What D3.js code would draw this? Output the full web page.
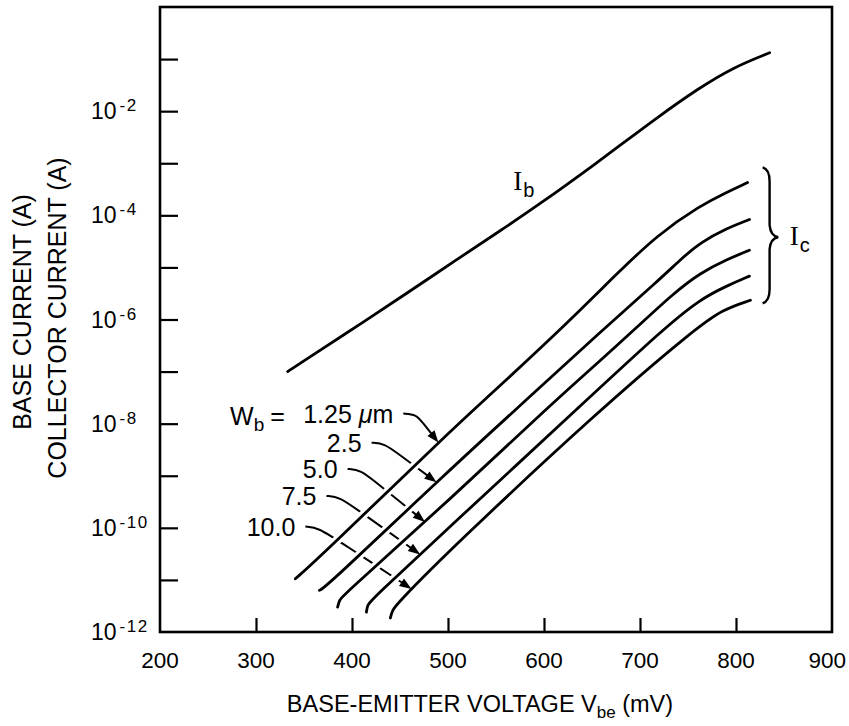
<!DOCTYPE html>
<html>
<head>
<meta charset="utf-8">
<script src="https://cdn.jsdelivr.net/npm/d3@7"></script>
<style>
    html, body { margin: 0; padding: 0; background: #fff; }
    svg { display: block; font-family: "Liberation Sans", Arial, sans-serif; }
</style>
</head>
<body>
<svg id="chart" width="849" height="726"></svg>
<script>
// axis ticks
const xTicks = [300, 400, 500, 600, 700, 800];
const xLabels = [200, 300, 400, 500, 600, 700, 800, 900];
const yTickExps = [-11, -10, -9, -8, -7, -6, -5, -4, -3, -2, -1];
const yLabelExps = [-12, -10, -8, -6, -4, -2];

// [Vbe (mV), current (A)]
const baseCurrent = [[333, 1.0e-7], [346, 1.45e-7], [416, 1.0e-6], [460, 3.47e-6], [509, 1.41e-5],
    [554, 5.0e-5], [596, 1.66e-4], [658, 1.12e-3], [682, 2.4e-3], [718, 7.6e-3],
    [762, 2.82e-2], [797, 6.9e-2], [835, 0.132]];

const icW125 = [[341, 1.05e-11], [367, 2.8e-11], [502, 7.1e-9], [539, 2.95e-8], [620, 7.1e-7],
    [676, 7.6e-6], [718, 4.2e-5], [763, 1.55e-4], [790, 2.75e-4], [812, 4.27e-4]];
const icW25 = [[366, 6.3e-12], [374, 7.6e-12], [502, 1.32e-9], [582, 2.9e-8], [658, 5.6e-7],
    [721, 6.0e-6], [745, 1.58e-5], [763, 3.0e-5], [790, 5.6e-5], [814, 8.3e-5]];
const icW50 = [[385, 3.0e-12], [387, 4.2e-12], [391, 5.1e-12], [502, 3.5e-10], [609, 2.5e-8],
    [658, 1.58e-7], [695, 6.6e-7], [735, 3.2e-6], [763, 7.9e-6], [790, 1.41e-5], [814, 2.14e-5]];
const icW75 = [[415, 2.4e-12], [416, 3.3e-12], [421, 4.3e-12], [502, 1.05e-10], [645, 2.9e-8],
    [724, 6.5e-7], [762, 2.4e-6], [790, 4.4e-6], [814, 6.8e-6]];
const icW100 = [[440, 1.86e-12], [442, 2.6e-12], [447, 3.5e-12], [502, 3.8e-11], [658, 1.86e-8],
    [757, 6.5e-7], [786, 1.55e-6], [815, 2.34e-6]];

const widthLabels = ["1.25", "2.5", "5.0", "7.5", "10.0"];
const collectorCurves = [icW125, icW25, icW50, icW75, icW100];
// where each width label ends, and the Vbe the arrow points at
const labelAnchors = [[443, 1.05e-8], [410, 2.9e-9], [385, 9.1e-10], [363, 2.75e-10], [341, 7.1e-11]];
const arrowTipV = [490, 488, 476, 471, 462];

const svg = d3.select("#chart");
const x = d3.scaleLinear().domain([200, 900]).range([160, 832]);
const y = d3.scaleLog().domain([1e-12, 1]).range([632, 7]);

// frame
svg.append("rect")
    .attr("x", x(200)).attr("y", y(1))
    .attr("width", x(900) - x(200)).attr("height", y(1e-12) - y(1))
    .attr("fill", "none").attr("stroke", "#000").attr("stroke-width", 2.6);

const xAxis = svg.append("g")
    .attr("transform", `translate(0,${y(1e-12)})`)
    .call(d3.axisBottom(x).tickValues(xTicks).tickSize(-14).tickFormat(""));
xAxis.select(".domain").remove();
xAxis.selectAll("line").attr("stroke-width", 2.2);

const yAxis = svg.append("g")
    .attr("transform", `translate(${x(200)},0)`)
    .call(d3.axisLeft(y).tickValues(yTickExps.map(e => Math.pow(10, e))).tickSize(-18).tickFormat(""));
yAxis.select(".domain").remove();
yAxis.selectAll("line").attr("stroke-width", 2.2);

// last label pulled in so it stays inside the page
svg.append("g").selectAll("text")
    .data(xLabels)
    .enter().append("text")
    .attr("x", d => d === 900 ? x(d) + 14 : x(d))
    .attr("y", 668)
    .attr("text-anchor", d => d === 900 ? "end" : "middle")
    .attr("font-size", 22.5)
    .text(d => d);

const yl = svg.append("g").selectAll("text")
    .data(yLabelExps)
    .enter().append("text")
    .attr("x", 91)
    .attr("y", d => y(Math.pow(10, d)) + 8)
    .attr("font-size", 23);
yl.append("tspan").text("10");
yl.append("tspan").attr("dx", 3).attr("dy", -8).attr("font-size", 17)
    .attr("letter-spacing", 1.5).text(d => "-" + (-d));

// axis titles
const xt = svg.append("text")
    .attr("x", 480).attr("y", 712)
    .attr("text-anchor", "middle")
    .attr("font-size", 23.5);
xt.append("tspan").text("BASE-EMITTER VOLTAGE V");
xt.append("tspan").attr("dy", 6).attr("font-size", 17).text("be");
xt.append("tspan").attr("dy", -6).text(" (mV)");

svg.append("text")
    .attr("transform", "translate(31,312) rotate(-90)")
    .attr("text-anchor", "middle")
    .attr("font-size", 25)
    .text("BASE CURRENT (A)");
svg.append("text")
    .attr("transform", "translate(66,318) rotate(-90)")
    .attr("text-anchor", "middle")
    .attr("font-size", 25)
    .text("COLLECTOR CURRENT (A)");

// current at a given Vbe along a curve (log interpolation)
function currentAt(series, v) {
    for (let i = 1; i < series.length; i++) {
        if (v <= series[i][0]) {
            const a = series[i - 1], b = series[i];
            const t = (v - a[0]) / (b[0] - a[0]);
            return Math.pow(10, Math.log10(a[1]) + t * (Math.log10(b[1]) - Math.log10(a[1])));
        }
    }
    return series[series.length - 1][1];
}

// width labels and leaders
const leaderLine = d3.line().curve(d3.curveBasis);
const heads = [];
widthLabels.forEach((w, i) => {
    const lx = x(labelAnchors[i][0]), ly = y(labelAnchors[i][1]);
    const t = svg.append("text")
        .attr("x", lx).attr("y", ly)
        .attr("text-anchor", "end")
        .attr("font-size", 25);
    if (i === 0) {
        t.append("tspan").text("1.25 ");
        t.append("tspan").attr("font-style", "italic").text("\u03bc");
        t.append("tspan").text("m");
    } else {
        t.text(w);
    }
    const s = [lx + 10, ly - 9];
    const k = [s[0] + 13, s[1] + 1];
    const tip = [x(arrowTipV[i]), y(currentAt(collectorCurves[i], arrowTipV[i]))];
    const m = [k[0] + 0.25 * (tip[0] - k[0]), k[1] + 0.25 * (tip[1] - k[1])];
    svg.append("path")
        .attr("d", leaderLine([s, k, m, tip]))
        .attr("fill", "none").attr("stroke", "#000").attr("stroke-width", 2);
    heads.push({ from: m, tip: tip });
});

const wb = svg.append("text")
    .attr("x", x(273)).attr("y", y(9.5e-9))
    .attr("font-size", 25);
wb.append("tspan").text("W");
wb.append("tspan").attr("dy", 6).attr("font-size", 19).text("b");
wb.append("tspan").attr("dy", -6).attr("dx", 6).text("=");

// curves (white casing gives the broken leaders)
const curveLine = d3.line().x(d => x(d[0])).y(d => y(d[1])).curve(d3.curveBasis);
const allCurves = [baseCurrent].concat(collectorCurves);
svg.append("g").selectAll("path")
    .data(allCurves)
    .enter().append("path")
    .attr("d", curveLine)
    .attr("fill", "none").attr("stroke", "#fff").attr("stroke-width", 9);
svg.append("g").selectAll("path")
    .data(allCurves)
    .enter().append("path")
    .attr("d", curveLine)
    .attr("fill", "none").attr("stroke", "#000").attr("stroke-width", 2.8)
    .attr("stroke-linecap", "round");

// arrowheads
heads.forEach(h => {
    const dx = h.tip[0] - h.from[0], dy = h.tip[1] - h.from[1];
    const len = Math.hypot(dx, dy), ux = dx / len, uy = dy / len;
    const bx = h.tip[0] - 12 * ux, by = h.tip[1] - 12 * uy;
    const p = d3.path();
    p.moveTo(h.tip[0], h.tip[1]);
    p.lineTo(bx - 4.5 * uy, by + 4.5 * ux);
    p.lineTo(bx + 4.5 * uy, by - 4.5 * ux);
    p.closePath();
    svg.append("path").attr("d", p.toString()).attr("fill", "#000");
});

// curve names
const ib = svg.append("text").attr("x", x(568)).attr("y", y(3.1e-4));
ib.append("tspan").attr("font-family", "Liberation Serif, serif").attr("font-size", 27).text("I");
ib.append("tspan").attr("dy", 7).attr("dx", 1).attr("font-size", 20).text("b");

const braceX = x(835), braceTip = x(844);
const bTop = y(8.3e-4), bBot = y(2.05e-6), bMid = y(3.8e-5);
const bp = d3.path();
bp.moveTo(braceX - 7, bTop);
bp.quadraticCurveTo(braceX, bTop + 2, braceX, bTop + 14);
bp.lineTo(braceX, bMid - 12);
bp.quadraticCurveTo(braceX + 1, bMid - 1, braceTip, bMid);
bp.quadraticCurveTo(braceX + 1, bMid + 1, braceX, bMid + 12);
bp.lineTo(braceX, bBot - 14);
bp.quadraticCurveTo(braceX, bBot - 2, braceX - 7, bBot);
svg.append("path").attr("d", bp.toString())
    .attr("fill", "none").attr("stroke", "#000").attr("stroke-width", 2.4);

const ic = svg.append("text").attr("x", x(856)).attr("y", y(2.7e-5));
ic.append("tspan").attr("font-family", "Liberation Serif, serif").attr("font-size", 27).text("I");
ic.append("tspan").attr("dy", 7).attr("dx", 1).attr("font-size", 20).text("c");
</script>
</body>
</html>
